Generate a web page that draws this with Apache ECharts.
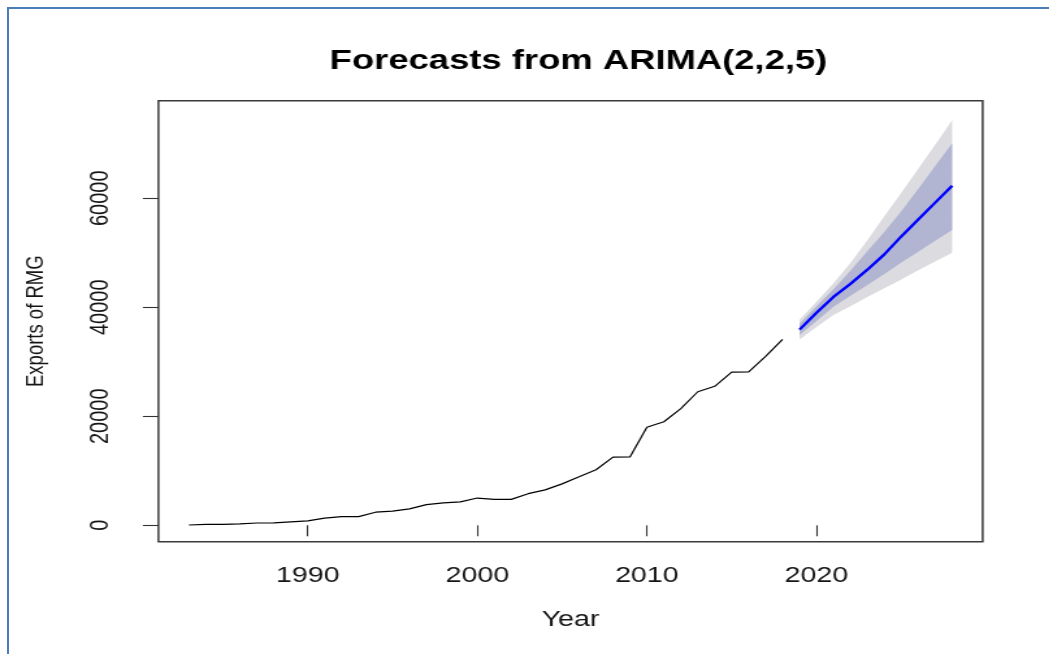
<!DOCTYPE html>
<html>
<head>
<meta charset="utf-8">
<script src="https://cdn.jsdelivr.net/npm/echarts@6/dist/echarts.min.js"></script>
<style>
  html, body { margin: 0; padding: 0; background: #fff; overflow: hidden; width: 1049px; height: 654px; }
  #frame { position: absolute; left: 7px; top: 7px; width: 1100px; height: 700px;
           border-top: 2px solid #4A7EBB; border-left: 2px solid #4A7EBB; box-sizing: border-box; }
  /* the plot is laid out on a narrower canvas and widened, like an R device stretched sideways */
  #chart { position: absolute; left: 0; top: 0; width: 807px; height: 654px;
           transform: scaleX(1.3); transform-origin: 0 0; }
</style>
</head>
<body>
<div id="frame"></div>
<div id="chart"></div>
<script>
// Observed annual exports of RMG
const years = [1983, 1984, 1985, 1986, 1987, 1988, 1989, 1990, 1991, 1992, 1993, 1994,
               1995, 1996, 1997, 1998, 1999, 2000, 2001, 2002, 2003, 2004, 2005, 2006,
               2007, 2008, 2009, 2010, 2011, 2012, 2013, 2014, 2015, 2016, 2017, 2018];
const exportsRMG = [50, 180, 180, 250, 420, 460, 640, 800, 1300, 1600, 1600, 2400,
                    2600, 3000, 3800, 4100, 4300, 5000, 4750, 4750, 5800, 6500, 7600, 8900,
                    10200, 12500, 12550, 18000, 19000, 21400, 24500, 25500, 28100, 28150, 31000, 34100];

// ARIMA(2,2,5) point forecasts and prediction intervals
const fcYears = [2019, 2020, 2021, 2022, 2023, 2024, 2025, 2026, 2027, 2028];
const fcMean  = [35900, 39000, 41900, 44300, 46900, 49700, 53000, 56100, 59200, 62300];
const lo80    = [34900, 37500, 40100, 42100, 44100, 46100, 48200, 50200, 52200, 54200];
const hi80    = [37000, 40200, 43300, 46700, 50300, 53800, 57600, 61700, 65900, 70100];
const lo95    = [34100, 36400, 38600, 40200, 41900, 43500, 45100, 46800, 48400, 50000];
const hi95    = [37700, 41000, 44400, 48100, 52300, 56700, 61000, 65400, 69800, 74300];

// axis ticks
const xTicks = [1990, 2000, 2010, 2020];
const yTicks = [0, 20000, 40000, 60000];

const FONT = '"Liberation Sans", Arial, Helvetica, sans-serif';
const INK = '#151515';

const chart = echarts.init(document.getElementById('chart'), null, { renderer: 'canvas' });

chart.setOption({
  animation: false,
  backgroundColor: 'transparent',
  title: {
    text: 'Forecasts from ARIMA(2,2,5)',
    left: 440,
    textAlign: 'center',
    top: 42,
    textStyle: { fontFamily: FONT, fontSize: 28, fontWeight: 'bold', color: '#000' }
  },
  grid: {
    left: 121.9, right: 51.1, top: 100.7, bottom: 112.3,
    show: true, borderColor: '#3a3a3a', borderWidth: 1.5, backgroundColor: 'transparent'
  },
  xAxis: {
    type: 'value', min: 1981.2, max: 2029.8,
    axisLine: { show: false },
    splitLine: { show: false },
    axisTick: { show: true, customValues: xTicks, length: 11, lineStyle: { color: '#333', width: 1.1 } },
    axisLabel: { customValues: xTicks, fontFamily: FONT, fontSize: 22, color: INK, margin: 23,
                 formatter: v => String(v) },
    name: 'Year', nameLocation: 'middle', nameGap: 67,
    nameTextStyle: { fontFamily: FONT, fontSize: 22, color: INK }
  },
  yAxis: {
    type: 'value', min: -3010, max: 77900,
    axisLine: { show: false },
    splitLine: { show: false },
    axisTick: { show: true, customValues: yTicks, length: 12, lineStyle: { color: '#333', width: 1.1 } },
    axisLabel: { customValues: yTicks, rotate: 90, fontFamily: FONT, fontSize: 20, color: INK, margin: 34,
                 formatter: v => String(v) },
    name: 'Exports of RMG', nameLocation: 'middle', nameRotate: 90, nameGap: 84,
    nameTextStyle: { fontFamily: FONT, fontSize: 18.5, color: INK }
  },
  series: [
    {
      // 95% and 80% prediction bands
      type: 'custom',
      silent: true,
      z: 1,
      data: [[fcYears[0], fcMean[0]]],
      renderItem: (params, api) => {
        const band = (lo, hi, fill) => {
          const pts = [];
          for (let i = 0; i < fcYears.length; i++) pts.push(api.coord([fcYears[i], hi[i]]));
          for (let i = fcYears.length - 1; i >= 0; i--) pts.push(api.coord([fcYears[i], lo[i]]));
          return { type: 'polygon', shape: { points: pts }, style: { fill: fill, stroke: null } };
        };
        return { type: 'group', children: [band(lo95, hi95, '#DBDBE0'), band(lo80, hi80, '#B1B5D2')] };
      }
    },
    {
      type: 'line',
      z: 3,
      showSymbol: false,
      data: years.map((y, i) => [y, exportsRMG[i]]),
      lineStyle: { color: '#000', width: 1.2 }
    },
    {
      type: 'line',
      z: 4,
      showSymbol: false,
      data: fcYears.map((y, i) => [y, fcMean[i]]),
      lineStyle: { color: '#0000FF', width: 2.4 }
    }
  ]
});
</script>
</body>
</html>
